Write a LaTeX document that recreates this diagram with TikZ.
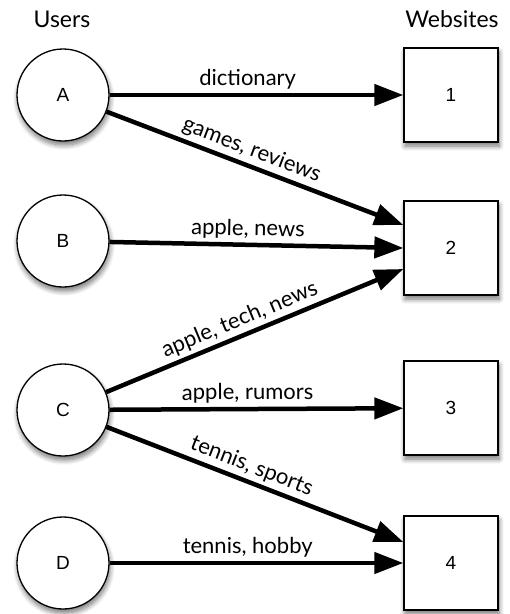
\documentclass[tikz,border=0pt]{standalone}
\usepackage{fontspec}
\setmainfont{Lato}
\newfontfamily\nodefont{Liberation Sans}
\usetikzlibrary{arrows.meta,shadows.blur}
\begin{document}
\begin{tikzpicture}[x=1pt,y=-1pt,
  shad/.style={blur shadow={shadow xshift=1pt,shadow yshift=-4pt,shadow blur steps=8,shadow blur radius=5pt,shadow opacity=55}},
  user/.style={circle,draw,line width=1.3pt,fill=white,minimum size=92pt,inner sep=0pt,
    font=\nodefont\fontsize{19}{22}\selectfont,shad},
  site/.style={rectangle,draw,line width=1.3pt,fill=white,minimum size=94pt,inner sep=0pt,
    font=\nodefont\fontsize{19}{22}\selectfont,shad},
  link/.style={line width=4.5pt,-{Triangle[length=29pt,width=21pt]}},
  lbl/.style={font=\fontsize{22}{26}\selectfont,sloped,above=0pt,pos=0.47},
  head/.style={font=\fontsize{23}{26}\selectfont}]
\useasboundingbox (0,0) rectangle (510,614);
\node[head] (users) at (62,19) {Users};
\node[head] (webs) at (452,19) {Websites};
\node[user] (A) at (63,95) {A};
\node[user] (B) at (63,241) {B};
\node[user] (C) at (63,410) {C};
\node[user] (D) at (63,563) {D};
\node[site] (s1) at (451,95) {1};
\node[site] (s2) at (451,248) {2};
\node[site] (s3) at (451,408) {3};
\node[site] (s4) at (451,563) {4};
\coordinate (s2a) at ([yshift=23pt]s2.west);
\coordinate (s2c) at ([yshift=-21pt]s2.west);
\coordinate (s4a) at ([yshift=21pt]s4.west);
\draw[link] (A) -- node[lbl]{dictionary} (s1);
\draw[link] (A) -- node[lbl]{games, reviews} (s2a);
\draw[link] (B) -- node[lbl]{apple, news} (s2.west);
\draw[link] (C) -- node[lbl]{apple, tech, news} (s2c);
\draw[link] (C) -- node[lbl]{apple, rumors} (s3);
\draw[link] (C) -- node[lbl]{tennis, sports} (s4a);
\draw[link] (D) -- node[lbl]{tennis, hobby} (s4);
\end{tikzpicture}
\end{document}
